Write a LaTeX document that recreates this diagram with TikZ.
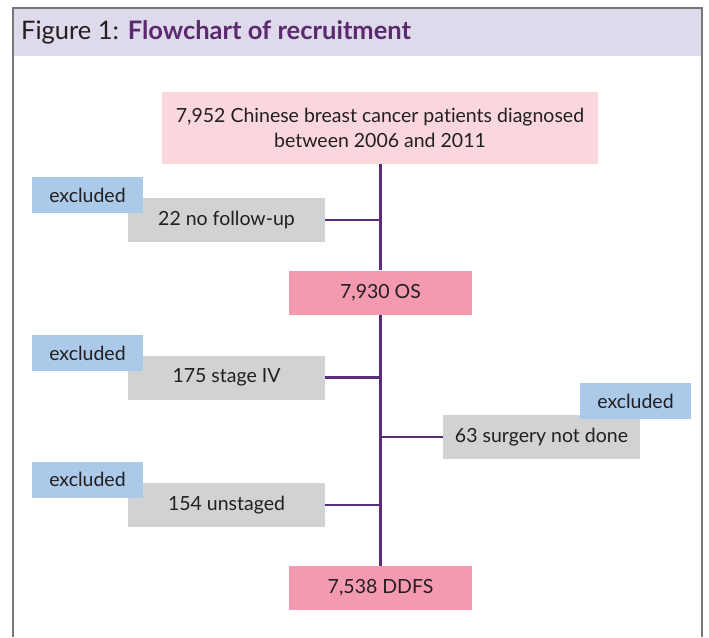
\documentclass[tikz,border=0pt]{standalone}
\usepackage{fontspec}
\setmainfont{Lato}[Ligatures=NoCommon]
\usepackage{xcolor}
\usetikzlibrary{positioning}
\definecolor{bandlilac}{HTML}{DEDAEB}
\definecolor{framegrey}{HTML}{777777}
\definecolor{palepink}{HTML}{FAD7DD}
\definecolor{rosepink}{HTML}{F49AB0}
\definecolor{exblue}{HTML}{ABC9E9}
\definecolor{boxgrey}{HTML}{D1D2D4}
\definecolor{linepurple}{HTML}{5A2C7A}
\definecolor{titlepurple}{HTML}{5B2A6E}
\definecolor{textdark}{HTML}{231F20}
\tikzset{
  flowbox/.style={
    shape = rectangle,
    inner sep = 0pt,
    text = textdark,
    font = \fontsize{19.5}{25}\selectfont
  },
  startbox/.style={
    flowbox,
    fill = palepink,
    minimum width = 436pt,
    minimum height = 72pt,
    align = center
  },
  countbox/.style={
    flowbox,
    fill = rosepink,
    minimum width = 183pt,
    minimum height = 44pt
  },
  dropbox/.style={
    flowbox,
    fill = boxgrey,
    minimum width = 197pt,
    minimum height = 44pt
  },
  exbox/.style={
    flowbox,
    fill = exblue,
    minimum width = 111pt,
    minimum height = 36pt
  },
  link/.style={
    draw = linepurple,
    line width = 2.5pt
  }
}

\begin{document}
\begin{tikzpicture}[x=1pt, y=-1pt]
  \useasboundingbox (0,0) rectangle (709,637);

  % frame and title band
  \fill[bandlilac] (13,8) rectangle (702,56);
  \draw[framegrey, line width=2pt] (13,637) -- (13,8) -- (702,8) -- (702,637);
  \node[anchor=base west, inner sep=0pt, text=textdark, font=\fontsize{25.5}{30}\selectfont] (title) at (21,39)
    {Figure 1: \textcolor{titlepurple}{\textbf{Flowchart of recruitment}}};

  % main column
  \node[startbox] (start) at (380,128) {7,952 Chinese breast cancer patients diagnosed\\between 2006 and 2011};
  \node[countbox] (os) at (380.5,292.5) {7,930 OS};
  \node[countbox] (ddfs) at (380.5,588) {7,538 DDFS};

  \draw[link] (start.south -| os.center) -- (os.north);
  \draw[link] (os.south) -- (ddfs.north);

  % exclusions
  \node[dropbox] (nofollow) at (226.5,220) {22 no follow-up};
  \node[dropbox] (stagefour) at (226.5,377.5) {175 stage IV};
  \node[dropbox] (unstaged) at (226.5,505) {154 unstaged};
  \node[dropbox] (nosurgery) at (541.5,437) {63 surgery not done};

  \node[exbox] (exa) at (87.5,195) {excluded};
  \node[exbox] (exb) at (87.5,353) {excluded};
  \node[exbox] (exc) at (87.5,479.5) {excluded};
  \node[exbox] (exd) at (635.5,401) {excluded};

  \draw[link] (nofollow.east) -- (nofollow.east -| os.center);
  \draw[link] (stagefour.east) -- (stagefour.east -| os.center);
  \draw[link] (unstaged.east) -- (unstaged.east -| os.center);
  \draw[link] (nosurgery.west) -- (nosurgery.west -| os.center);
\end{tikzpicture}
\end{document}
